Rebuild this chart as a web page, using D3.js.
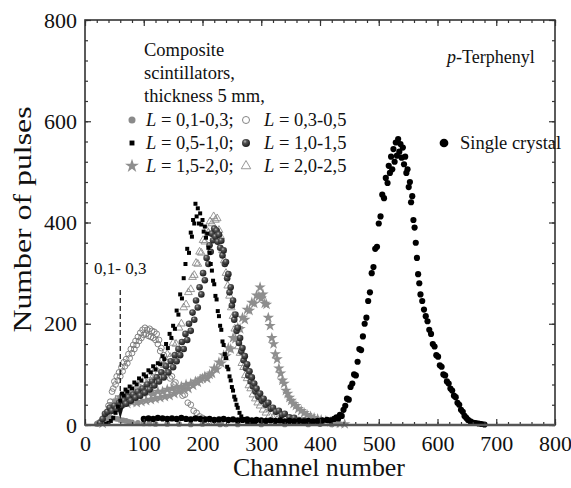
<!DOCTYPE html>
<html>
<head>
<meta charset="utf-8">
<script src="https://cdn.jsdelivr.net/npm/d3@7"></script>
<style>
  body { margin: 0; background: #fff; }
  text { font-family: "Liberation Serif", "Times New Roman", serif; fill: #111; }
</style>
</head>
<body>
<div id="wrapper"></div>
<script>
// channel / number-of-pulses pairs
const l0103 = [[20,2],[25,4],[30,6],[35,9],[40,12],[45,14],[50,13],[55,12],[60,10],[65,9],[70,8],[75,6],[80,5],[90,4],[100,3],[110,3],[120,2],[140,2],[160,2],[180,1],[200,2],[230,1],[260,1],[300,1],[340,1],[380,1],[420,1]];

const l0305 = [[22,3],[26,6],[30,10],[34,18],[37,24],[40,38],[43,46],[46,66],[48,72],[50,86],[52,80],[54,96],[56,88],[58,104],[60,96],[62,114],[64,106],[66,124],[68,116],[70,130],[72,122],[74,140],[76,132],[78,150],[80,142],[82,158],[84,150],[86,166],[88,158],[90,174],[92,166],[94,182],[96,172],[98,188],[100,178],[102,192],[104,180],[106,188],[108,176],[110,190],[112,174],[114,186],[116,172],[118,184],[120,168],[122,180],[124,160],[126,168],[128,146],[130,152],[132,130],[134,138],[136,118],[138,124],[140,104],[142,110],[145,92],[148,96],[151,80],[154,84],[158,70],[162,72],[166,58],[170,60],[175,44],[180,40],[185,28],[190,24],[195,17],[200,14],[205,11],[210,8],[215,6],[220,5],[230,3],[240,2]];

const l0510 = [[36,2],[40,4],[44,8],[48,14],[52,24],[56,36],[60,48],[63,62],[66,58],[69,70],[72,66],[76,76],[80,72],[84,84],[88,80],[92,92],[96,88],[100,100],[104,96],[108,108],[112,104],[116,116],[120,110],[124,122],[128,120],[132,136],[135,130],[138,160],[141,152],[144,180],[147,172],[150,196],[153,190],[156,226],[159,218],[162,258],[165,250],[168,290],[171,318],[174,348],[177,340],[180,380],[182,372],[184,405],[186,398],[188,437],[190,412],[192,428],[194,398],[196,418],[198,396],[200,405],[202,382],[204,392],[206,370],[208,378],[210,350],[212,340],[214,318],[216,305],[218,285],[220,278],[222,255],[224,248],[226,225],[228,215],[230,196],[232,188],[234,165],[236,158],[238,140],[240,132],[242,115],[244,110],[246,96],[248,88],[250,75],[252,68],[254,56],[256,50],[258,40],[260,34],[263,24],[266,17],[269,12],[272,9],[276,6],[280,4],[285,3],[290,2]];

const l1015 = [[26,4],[30,12],[34,22],[38,26],[42,34],[46,28],[50,38],[54,32],[58,44],[62,38],[66,48],[70,42],[74,55],[78,48],[82,60],[86,54],[90,66],[94,58],[98,72],[102,64],[106,80],[110,70],[114,86],[118,78],[122,94],[126,86],[130,104],[134,94],[138,116],[142,104],[146,126],[150,114],[153,138],[156,126],[159,150],[162,138],[165,164],[168,150],[171,180],[174,168],[177,200],[180,186],[183,222],[186,208],[189,246],[192,232],[195,272],[198,258],[201,300],[204,286],[207,330],[210,318],[212,355],[214,342],[216,378],[218,365],[220,388],[222,372],[224,384],[226,362],[228,376],[230,350],[232,364],[234,335],[236,345],[238,318],[240,322],[242,290],[244,298],[246,262],[248,272],[250,236],[252,246],[254,208],[256,218],[258,186],[260,192],[262,162],[264,172],[266,145],[268,152],[270,128],[272,136],[274,112],[276,120],[278,98],[280,106],[282,86],[284,94],[286,76],[288,82],[290,66],[292,72],[295,56],[298,62],[301,48],[304,52],[308,40],[312,44],[316,32],[320,34],[325,26],[330,28],[335,20],[340,22],[348,15],[356,14],[364,10],[372,9],[380,6],[390,5],[400,3]];

const l1520 = [[30,3],[34,8],[38,16],[41,24],[44,34],[48,42],[52,48],[56,40],[60,55],[64,45],[68,58],[72,42],[76,60],[80,45],[84,62],[88,44],[92,60],[96,46],[100,62],[104,48],[108,64],[112,50],[116,62],[120,52],[124,66],[128,54],[132,66],[136,56],[140,70],[144,58],[148,72],[152,62],[156,74],[160,66],[164,76],[168,70],[172,80],[176,72],[180,82],[184,78],[188,86],[192,84],[196,90],[200,92],[204,96],[208,92],[212,100],[216,102],[220,112],[224,110],[228,124],[232,122],[236,138],[240,136],[244,152],[248,150],[252,172],[256,170],[260,192],[264,190],[268,212],[272,208],[276,228],[280,226],[284,242],[288,240],[292,256],[296,254],[298,272],[300,250],[303,258],[306,240],[309,238],[312,212],[315,196],[318,172],[321,160],[324,140],[327,130],[330,112],[333,102],[336,88],[339,82],[342,68],[345,62],[348,54],[351,48],[355,42],[359,38],[363,32],[368,28],[373,24],[378,20],[384,17],[390,14],[396,12],[402,10],[410,8],[418,6],[426,4],[434,3],[442,2]];

const l2025 = [[30,5],[35,12],[40,22],[45,28],[50,42],[55,44],[60,54],[65,50],[70,62],[75,58],[80,70],[85,64],[90,78],[95,72],[100,88],[105,82],[110,98],[115,94],[120,110],[125,104],[130,126],[135,118],[140,140],[145,134],[150,162],[155,160],[160,192],[164,200],[168,232],[172,238],[176,262],[180,268],[183,292],[186,296],[189,320],[192,318],[195,342],[198,340],[201,365],[204,362],[207,385],[210,380],[213,402],[216,398],[219,412],[222,405],[225,408],[228,385],[231,372],[234,345],[237,325],[240,300],[243,275],[246,255],[249,232],[252,215],[255,190],[258,178],[261,155],[264,142],[267,122],[270,114],[273,98],[276,92],[279,78],[282,72],[286,60],[290,52],[294,44],[298,38],[303,30],[308,24],[314,18],[320,14],[327,10],[335,7],[345,5]];

const singleCrystal = [[100,12],[108,13],[116,12],[124,14],[132,13],[140,12],[148,13],[156,12],[164,14],[172,12],[180,11],[188,13],[196,12],[204,11],[212,12],[220,10],[228,11],[236,12],[244,10],[252,11],[260,9],[268,10],[276,11],[284,9],[292,10],[300,9],[308,8],[316,9],[324,8],[332,9],[340,7],[348,8],[356,7],[364,8],[372,7],[380,8],[388,7],[396,8],[404,9],[412,10],[418,9],[424,12],[428,15],[431,13],[434,20],[437,18],[440,30],[443,38],[446,52],[449,50],[452,75],[455,82],[458,100],[461,98],[464,125],[467,150],[470,148],[473,175],[476,200],[479,212],[482,245],[485,262],[488,300],[491,312],[494,348],[497,352],[500,398],[503,412],[506,455],[509,448],[512,488],[515,478],[517,512],[519,498],[521,530],[523,505],[525,545],[527,520],[529,558],[531,532],[533,565],[535,540],[537,555],[539,528],[541,548],[543,515],[545,530],[547,498],[549,505],[551,470],[553,480],[555,440],[557,452],[559,405],[561,390],[563,360],[565,330],[567,298],[569,280],[571,258],[574,245],[577,228],[580,215],[583,205],[586,188],[589,180],[592,160],[595,155],[598,138],[601,135],[604,118],[607,115],[610,100],[613,98],[616,86],[619,82],[622,72],[625,68],[628,58],[631,55],[634,44],[637,40],[640,30],[643,26],[646,18],[649,14],[652,10],[656,7],[660,5],[665,4],[670,3],[675,2],[680,1]];

const xTicks = [0, 100, 200, 300, 400, 500, 600, 700, 800];
const yTicks = [0, 200, 400, 600, 800];

const W = 571, H = 488;
const m = { left: 85, right: 16, top: 20, bottom: 63 };

const svg = d3.select("#wrapper").append("svg")
  .attr("width", W).attr("height", H);

const defs = svg.append("defs");
const grad = defs.append("radialGradient").attr("id", "sphere")
  .attr("cx", "38%").attr("cy", "32%").attr("r", "62%");
grad.append("stop").attr("offset", "0%").attr("stop-color", "#b8b8b8");
grad.append("stop").attr("offset", "35%").attr("stop-color", "#555");
grad.append("stop").attr("offset", "100%").attr("stop-color", "#222");

const x = d3.scaleLinear().domain([0, 800]).range([m.left, W - m.right]);
const y = d3.scaleLinear().domain([0, 800]).range([H - m.bottom, m.top]);

// series styles
const series = [
  { data: l0103, type: d3.symbolCircle, size: 26, fill: "#8a8a8a", stroke: "none" },
  { data: l2025, type: d3.symbolTriangle, size: 26, fill: "none", stroke: "#8c8c8c" },
  { data: l0305, type: d3.symbolCircle, size: 26, fill: "none", stroke: "#777" },
  { data: l1520, type: d3.symbolStar, size: 40, fill: "#8e8e8e", stroke: "none" },
  { data: l1015, type: d3.symbolCircle, size: 34, fill: "url(#sphere)", stroke: "none" },
  { data: l0510, type: d3.symbolSquare, size: 16, fill: "#000", stroke: "none" },
  { data: singleCrystal, type: d3.symbolCircle, size: 30, fill: "#000", stroke: "none" },
];

const plot = svg.append("g");
series.forEach(s => {
  plot.append("g").selectAll("path")
    .data(s.data)
    .join("path")
    .attr("transform", d => `translate(${x(d[0])},${y(d[1])})`)
    .attr("d", d3.symbol().type(s.type).size(s.size))
    .attr("fill", s.fill)
    .attr("stroke", s.stroke)
    .attr("stroke-width", 0.9);
});

// axes: inward ticks on all four sides
const minorX = d3.range(0, 801, 20);
const minorY = d3.range(0, 801, 40);
const axisColor = "#333";

function drawAxis(axisFn, scale, tr, major, minor, labels) {
  const gMinor = svg.append("g").attr("transform", tr)
    .call(axisFn(scale).tickValues(minor).tickSize(-3).tickFormat(""));
  const gMajor = svg.append("g").attr("transform", tr)
    .call(axisFn(scale).tickValues(major).tickSize(-6).tickPadding(labels ? 10 : 0)
      .tickFormat(labels ? d3.format("d") : ""));
  [gMinor, gMajor].forEach(g => {
    g.select(".domain").remove();
    g.selectAll("line").attr("stroke", axisColor).attr("stroke-width", 1.2);
  });
  gMajor.selectAll("text")
    .style("font-size", "22px")
    .style("font-family", "'Liberation Serif', serif")
    .attr("fill", "#111");
  return gMajor;
}

drawAxis(d3.axisBottom, x, `translate(0,${H - m.bottom})`, xTicks, minorX, true);
drawAxis(d3.axisTop, x, `translate(0,${m.top})`, xTicks, minorX, false);
drawAxis(d3.axisLeft, y, `translate(${m.left},0)`, yTicks, minorY, true)
  .selectAll("text").attr("dx", "2");
drawAxis(d3.axisRight, y, `translate(${W - m.right},0)`, yTicks, minorY, false);

svg.append("rect")
  .attr("x", m.left).attr("y", m.top)
  .attr("width", W - m.left - m.right).attr("height", H - m.top - m.bottom)
  .attr("fill", "none").attr("stroke", axisColor).attr("stroke-width", 1.6);
svg.append("line")
  .attr("x1", m.left).attr("x2", W - m.right)
  .attr("y1", H - m.bottom).attr("y2", H - m.bottom)
  .attr("stroke", "#555").attr("stroke-width", 2.5);

// axis titles
svg.append("text")
  .attr("x", 319).attr("y", 476)
  .attr("text-anchor", "middle").style("font-size", "25px")
  .attr("textLength", 172).attr("lengthAdjust", "spacingAndGlyphs")
  .text("Channel number");
svg.append("text")
  .attr("transform", `translate(31,${(m.top + H - m.bottom) / 2 - 3}) rotate(-90)`)
  .attr("text-anchor", "middle").style("font-size", "26px")
  .attr("textLength", 226).attr("lengthAdjust", "spacingAndGlyphs")
  .text("Number of pulses");

// legend
const legendFont = "18.5px";
const head = ["Composite", "scintillators,", "thickness 5 mm,"];
svg.append("g").selectAll("text").data(head).join("text")
  .attr("x", 144).attr("y", (d, i) => 56 + i * 23)
  .style("font-size", legendFont).text(d => d);

const legendRows = [
  [{ s: 0, label: "0,1-0,3;" }, { s: 2, label: "0,3-0,5" }],
  [{ s: 5, label: "0,5-1,0;" }, { s: 4, label: "1,0-1,5" }],
  [{ s: 3, label: "1,5-2,0;" }, { s: 1, label: "2,0-2,5" }],
];
const colSym = [132, 246], colText = [146, 264];
legendRows.forEach((row, r) => {
  const cy = 126 + r * 23;
  row.forEach((it, c) => {
    const s = series[it.s];
    svg.append("path")
      .attr("transform", `translate(${colSym[c]},${cy - 6})`)
      .attr("d", d3.symbol().type(s.type).size(s.size * 1.5))
      .attr("fill", s.fill).attr("stroke", s.stroke).attr("stroke-width", 0.9);
    const t = svg.append("text").attr("x", colText[c]).attr("y", cy).style("font-size", legendFont);
    t.append("tspan").style("font-style", "italic").text("L");
    t.append("tspan").text(" = " + it.label);
  });
});

const pt = svg.append("text").attr("x", 447).attr("y", 63).style("font-size", "18px");
pt.append("tspan").style("font-style", "italic").text("p");
pt.append("tspan").text("-Terphenyl");

svg.append("path")
  .attr("transform", "translate(444,143)")
  .attr("d", d3.symbol().type(d3.symbolCircle).size(60))
  .attr("fill", "#000");
svg.append("text").attr("x", 460).attr("y", 149).style("font-size", legendFont).text("Single crystal");

// arrow marking the 0,1-0,3 curve
svg.append("text").attr("x", 94).attr("y", 274).style("font-size", "17px").text("0,1- 0,3");
svg.append("line")
  .attr("x1", x(60)).attr("x2", x(60))
  .attr("y1", 290).attr("y2", 410)
  .attr("stroke", "#111").attr("stroke-width", 1.2).attr("stroke-dasharray", "5,3");
svg.append("path")
  .attr("d", `M${x(60) - 3},408 L${x(60) + 3},408 L${x(60)},419 Z`)
  .attr("fill", "#111");
</script>
</body>
</html>
